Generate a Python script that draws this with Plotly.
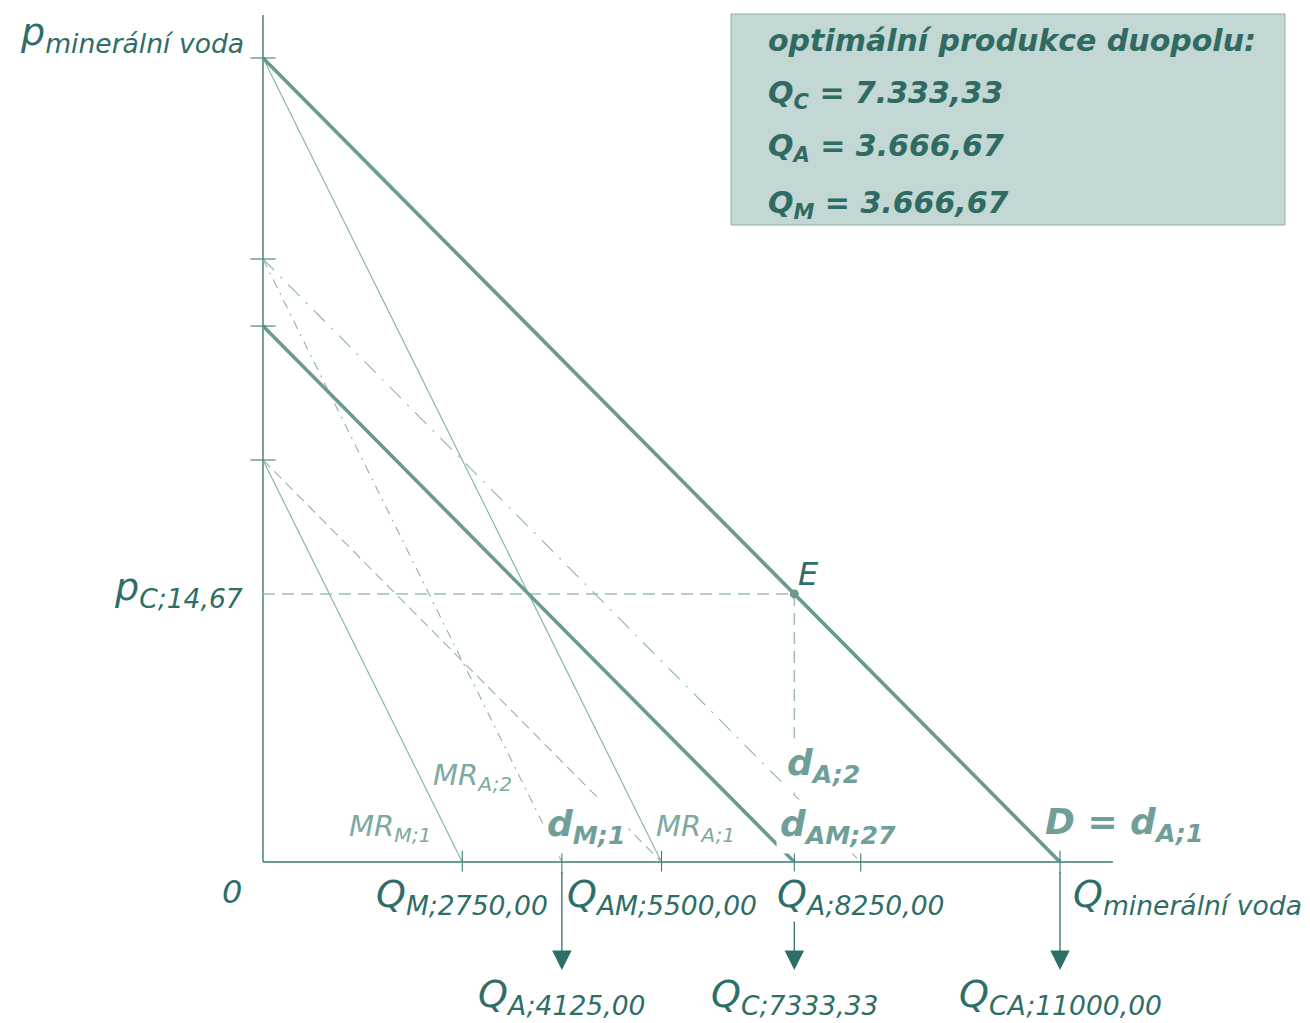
import plotly.graph_objects as go

# ------------------------------------------------------------------
# DATA
# ------------------------------------------------------------------
curve_names = ["D = d_A;1", "d_AM;27", "MR_A;1", "MR_M;1", "d_M;1", "d_A;2", "MR_A;2"]
price_intercepts = [44.0, 29.33, 44.0, 22.0, 22.0, 33.0, 33.0]
quantity_intercepts = [11000.0, 7333.33, 5500.0, 2750.0, 5500.0, 8250.0, 4125.0]

eq_quantity = 7333.33
eq_price = 14.67

x_tick_values = [2750.0, 4125.0, 5500.0, 7333.33, 8250.0, 11000.0]
y_tick_values = [44.0, 33.0, 29.33, 22.0]
arrow_quantities = [4125.0, 7333.33, 11000.0]

axis_q_max = 11730.0
axis_p_max = 46.35

x_label_values = [2750.0, 5500.0, 8250.0]
x_label_subs = ["M;2750,00", "AM;5500,00", "A;8250,00"]
result_label_values = [4125.0, 7333.33, 11000.0]
result_label_subs = ["A;4125,00", "C;7333,33", "CA;11000,00"]

box_title = "optimální produkce duopolu:"
box_names = ["C", "A", "M"]
box_values = ["7.333,33", "3.666,67", "3.666,67"]

# ------------------------------------------------------------------
# LAYOUT / STYLE
# ------------------------------------------------------------------
W, H = 1310, 1023
X0_PX, Y0_PX = 263, 862            # pixel position of the origin
PX_PER_Q = 797 / 11000.0
PX_PER_P = 804 / 44.0

FONT = "DejaVu Sans"
AXIS_COL = "#3f7a73"
TXT_DARK = "#2f6e66"
THICK_COL = "#6b9a93"
THIN_COL = "#8cb4ae"
DASH_COL = "#9dbfba"
BOLD_LBL = "#6f9f98"
MR_LBL = "#7ea8a2"


def at_px(px, py):
    """convert a pixel location (for text placement) into data coordinates"""
    return (px - X0_PX) / PX_PER_Q, (Y0_PX - py) / PX_PER_P


curve_styles = {
    "D = d_A;1": dict(color=THICK_COL, width=3.6),
    "d_AM;27": dict(color=THICK_COL, width=3.6),
    "MR_A;1": dict(color=THIN_COL, width=1.2),
    "MR_M;1": dict(color=THIN_COL, width=1.2),
    "d_M;1": dict(color=THIN_COL, width=1.1, dash="10px,6px"),
    "d_A;2": dict(color=THIN_COL, width=1.1, dash="16px,9px,2px,9px"),
    "MR_A;2": dict(color=THIN_COL, width=1.1, dash="9px,6px,2px,6px"),
}

fig = go.Figure()

# axis lines
fig.add_trace(go.Scatter(x=[0, axis_q_max], y=[0, 0], mode="lines",
                         line=dict(color=AXIS_COL, width=1.4), hoverinfo="skip"))
fig.add_trace(go.Scatter(x=[0, 0], y=[0, axis_p_max], mode="lines",
                         line=dict(color=AXIS_COL, width=1.4), hoverinfo="skip"))

# equilibrium guide lines
fig.add_trace(go.Scatter(x=[0, eq_quantity], y=[eq_price, eq_price], mode="lines",
                         line=dict(color=DASH_COL, width=1.5, dash="12px,7px"), hoverinfo="skip"))
fig.add_trace(go.Scatter(x=[eq_quantity, eq_quantity], y=[eq_price, 0], mode="lines",
                         line=dict(color=DASH_COL, width=1.5, dash="12px,7px"), hoverinfo="skip"))

# demand / MR curves (thin first, thick on top)
order = [2, 3, 4, 5, 6, 0, 1]
for i in order:
    name = curve_names[i]
    fig.add_trace(go.Scatter(x=[0, quantity_intercepts[i]], y=[price_intercepts[i], 0],
                             mode="lines", line=curve_styles[name], name=name,
                             hoverinfo="skip"))

# tick marks
fig.add_trace(go.Scatter(x=[0] * len(y_tick_values), y=y_tick_values, mode="markers",
                         marker=dict(symbol="line-ew", size=18,
                                     line=dict(color=AXIS_COL, width=1.1)),
                         hoverinfo="skip"))
fig.add_trace(go.Scatter(x=x_tick_values, y=[0] * len(x_tick_values), mode="markers",
                         marker=dict(symbol="line-ns", size=16,
                                     line=dict(color=AXIS_COL, width=1.1)),
                         hoverinfo="skip"))

# equilibrium point
fig.add_trace(go.Scatter(x=[eq_quantity], y=[eq_price], mode="markers",
                         marker=dict(color=THICK_COL, size=9), hoverinfo="skip"))

annotations = []

# down arrows
arrow_tip_p = -(970 - Y0_PX) / PX_PER_P
for q in arrow_quantities:
    annotations.append(dict(x=q, y=arrow_tip_p, ax=q, ay=0, xref="x", yref="y",
                            axref="x", ayref="y", text=" ", showarrow=True,
                            arrowhead=2, arrowsize=3.0, arrowwidth=1.3,
                            arrowcolor="#2f6e66"))

# axis titles
x, y = at_px(18, 34)
annotations.append(dict(x=x, y=y, xanchor="left", yanchor="middle",
                        text="<i>p<sub>minerální voda</sub></i>",
                        font=dict(family=FONT, size=38, color=TXT_DARK)))
x, y = at_px(1071, 896)
annotations.append(dict(x=x, y=y, xanchor="left", yanchor="middle",
                        text="<i>Q<sub>minerální voda</sub></i>",
                        font=dict(family=FONT, size=38, color=TXT_DARK)))
x, y = at_px(245, 589)
annotations.append(dict(x=x, y=y, xanchor="right", yanchor="middle",
                        text="<i>p<sub>C;14,67</sub></i>",
                        font=dict(family=FONT, size=38, color=TXT_DARK)))
x, y = at_px(232, 892)
annotations.append(dict(x=x, y=y, xanchor="center", yanchor="middle",
                        text="<i>0</i>",
                        font=dict(family=FONT, size=32, color=TXT_DARK)))
x, y = at_px(796, 574)
annotations.append(dict(x=x, y=y, xanchor="left", yanchor="middle",
                        text="<i>E</i>",
                        font=dict(family=FONT, size=32, color=TXT_DARK)))

# quantity labels on x axis
for q, sub in zip(x_label_values, x_label_subs):
    annotations.append(dict(x=q, y=0, yshift=-(896 - Y0_PX), xanchor="center",
                            yanchor="middle", text="<i>Q<sub>%s</sub></i>" % sub,
                            bgcolor="white", borderpad=0,
                            font=dict(family=FONT, size=38, color=TXT_DARK)))
for q, sub in zip(result_label_values, result_label_subs):
    annotations.append(dict(x=q, y=0, yshift=-(996 - Y0_PX), xanchor="center",
                            yanchor="middle", text="<i>Q<sub>%s</sub></i>" % sub,
                            borderpad=0,
                            font=dict(family=FONT, size=38, color=TXT_DARK)))

# curve labels
mr_labels = [("MR<sub>A;2</sub>", 431, 777), ("MR<sub>M;1</sub>", 347, 828),
             ("MR<sub>A;1</sub>", 654, 828)]
for txt, px, py in mr_labels:
    x, y = at_px(px, py)
    annotations.append(dict(x=x, y=y, xanchor="left", yanchor="middle",
                            text="<i>%s</i>" % txt,
                            font=dict(family=FONT, size=29, color=MR_LBL)))

bold_labels = [("d<sub>M;1</sub>", 543, 826, True), ("d<sub>A;2</sub>", 783, 765, True),
               ("d<sub>AM;27</sub>", 776, 826, True), ("D = d<sub>A;1</sub>", 1041, 824, False)]
for txt, px, py, bg in bold_labels:
    x, y = at_px(px, py)
    annotations.append(dict(x=x, y=y, xanchor="left", yanchor="middle",
                            text="<b><i>%s</i></b>" % txt,
                            bgcolor="white" if bg else None, borderpad=3,
                            font=dict(family=FONT, size=36, color=BOLD_LBL)))

# result box
box_rows = [box_title] + ["Q<sub>%s</sub> = %s" % (n, v) for n, v in zip(box_names, box_values)]
row_y = [41, 94, 148, 204]
for txt, py in zip(box_rows, row_y):
    annotations.append(dict(x=766 / W, y=1 - py / H, xref="paper", yref="paper",
                            xanchor="left", yanchor="middle",
                            text="<b><i>%s</i></b>" % txt,
                            font=dict(family=FONT, size=30, color="#2f6b62")))

for a in annotations:
    a.setdefault("showarrow", False)
    a.setdefault("xref", "x")
    a.setdefault("yref", "y")

fig.update_layout(
    width=W, height=H,
    margin=dict(l=0, r=0, t=0, b=0),
    paper_bgcolor="white", plot_bgcolor="white",
    showlegend=False,
    xaxis=dict(range=[-X0_PX / PX_PER_Q, (W - X0_PX) / PX_PER_Q], visible=False,
               fixedrange=True),
    yaxis=dict(range=[-(H - Y0_PX) / PX_PER_P, Y0_PX / PX_PER_P], visible=False,
               fixedrange=True),
    annotations=annotations,
    shapes=[dict(type="rect", xref="paper", yref="paper",
                 x0=731 / W, x1=1285 / W, y0=1 - 225 / H, y1=1 - 14 / H,
                 fillcolor="#c3d7d4", line=dict(color="#8fb0ac", width=1),
                 layer="below")],
)

fig.write_html("out.html", config={"displayModeBar": False},
               post_script="document.body.style.margin='0';document.body.style.overflow='hidden';")
